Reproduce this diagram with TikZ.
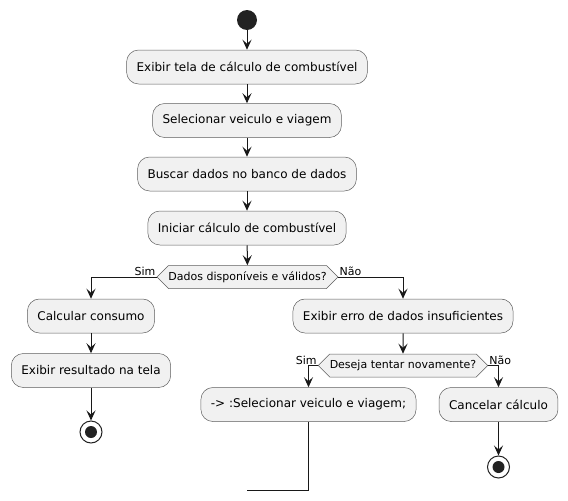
\documentclass[tikz,border=0pt]{standalone}
\usepackage{fontspec}
\setmainfont{DejaVu Sans}
\usetikzlibrary{arrows.meta,shapes.symbols}
\definecolor{boxfill}{HTML}{F1F1F1}
\definecolor{ink}{HTML}{181818}
\definecolor{dot}{HTML}{222222}
\begin{document}
\begin{tikzpicture}[x=1pt, y=-1pt,
	act/.style={shape=rectangle, rounded corners=12pt, draw=ink!70, line width=0.5pt, fill=boxfill, text=black,
		font=\fontsize{12}{14}\selectfont, minimum height=34pt, inner xsep=10pt},
	cond/.style={shape=signal, signal to=west and east, signal pointer angle=90, draw=ink!70, line width=0.5pt,
		fill=boxfill, text=black, font=\fontsize{11}{13}\selectfont, minimum height=23pt, inner xsep=0pt, inner ysep=2pt},
	lbl/.style={font=\fontsize{11}{13}\selectfont, inner sep=1pt},
	flow/.style={-{Stealth[length=10pt, width=9pt, inset=4pt]}, ink, line width=1pt},
	startdot/.style={shape=circle, fill=dot, minimum size=20pt, inner sep=0pt},
	stopdot/.style={shape=circle, draw=dot, line width=1pt, fill=white, minimum size=22pt, inner sep=0pt,
		path picture={\fill[dot] (path picture bounding box.center) circle (6pt);}}]
	\useasboundingbox (0,0) rectangle (568,501);

	\node[startdot] (start) at (247,20)    {};
	\node[act]      (tela)  at (247,67)    {Exibir tela de cálculo de combustível};
	\node[act]      (sel)   at (247,120.5) {Selecionar veiculo e viagem};
	\node[act]      (busca) at (247,174)   {Buscar dados no banco de dados};
	\node[act]      (inic)  at (247,228)   {Iniciar cálculo de combustível};
	\node[cond]     (ok)    at (247.5,277) {Dados disponíveis e válidos?};

	\node[act]      (calc)  at (91,316)    {Calcular consumo};
	\node[act]      (res)   at (91,370.5)  {Exibir resultado na tela};
	\node[stopdot]  (fim1)  at (91,432)    {};

	\node[act]      (erro)  at (403,316)   {Exibir erro de dados insuficientes};
	\node[cond]     (retry) at (403,365.5) {Deseja tentar novamente?};
	\node[act]      (volta) at (308.5,404.5) {-> :Selecionar veiculo e viagem;};
	\node[act]      (canc)  at (498.5,404.5) {Cancelar cálculo};
	\node[stopdot]  (fim2)  at (498.5,467) {};
	\coordinate     (solto) at (247,490);

	\path [flow] (start) edge (tela);
	\path [flow] (tela)  edge (sel);
	\path [flow] (sel)   edge (busca);
	\path [flow] (busca) edge (inic);
	\path [flow] (inic)  edge (ok);

	\draw [flow] (ok.west) -| (calc.north);
	\draw [flow] (ok.east) -| (erro.north);
	\node[lbl, anchor=south east] at (ok.west) {Sim};
	\node[lbl, anchor=south west] at (ok.east) {Não};

	\path [flow] (calc)  edge (res);
	\path [flow] (res)   edge (fim1);
	\path [flow] (erro)  edge (retry);

	\draw [flow] (retry.west) -| (volta.north);
	\draw [flow] (retry.east) -| (canc.north);
	\node[lbl, anchor=south east] at (retry.west) {Sim};
	\node[lbl, anchor=south west] at (retry.east) {Não};

	\path [flow] (canc)  edge (fim2);
	\draw [ink, line width=1pt] (volta.south) |- (solto);
\end{tikzpicture}
\end{document}
